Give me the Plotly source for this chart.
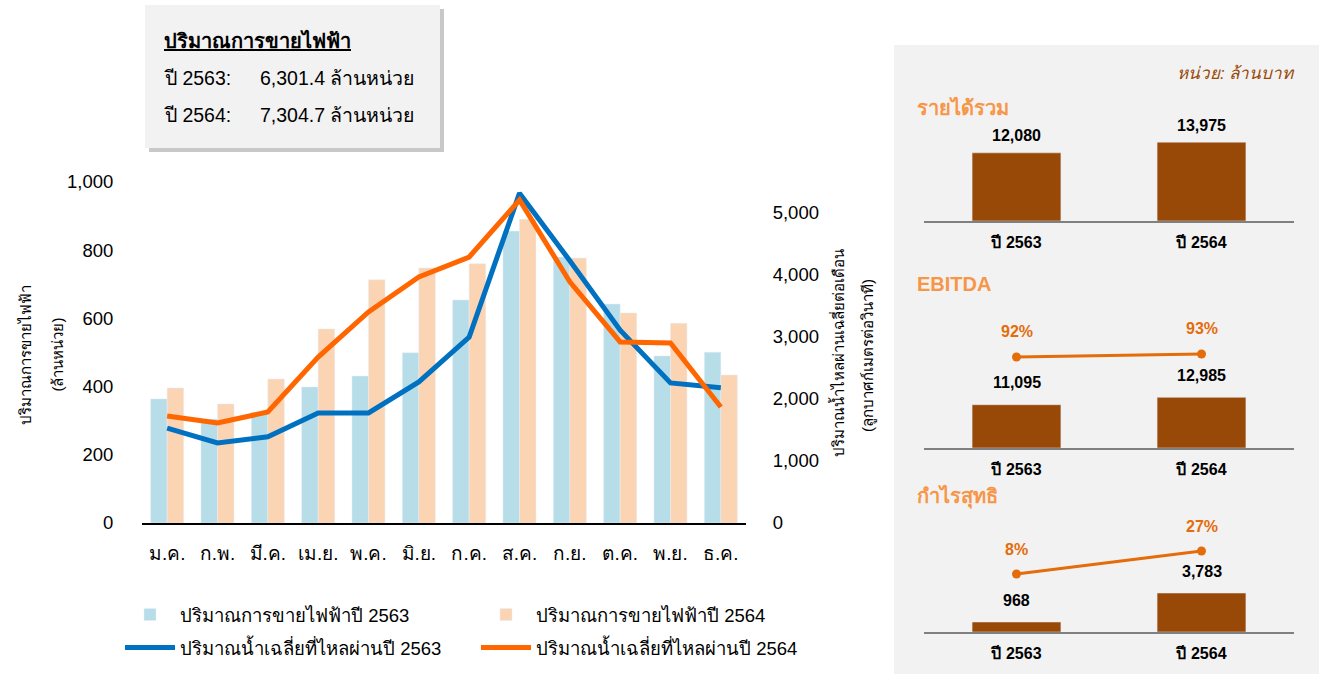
import plotly.graph_objects as go

# ข้อมูลรายเดือน (กราฟซ้าย)
months = ['ม.ค.', 'ก.พ.', 'มี.ค.', 'เม.ย.', 'พ.ค.', 'มิ.ย.', 'ก.ค.', 'ส.ค.', 'ก.ย.', 'ต.ค.', 'พ.ย.', 'ธ.ค.']
sales_2563 = [364, 305, 325, 399, 431, 499, 654, 856, 780, 642, 490, 501]
sales_2564 = [396, 349, 422, 569, 713, 748, 760, 891, 777, 616, 586, 434]
flow_2563 = [1530, 1290, 1390, 1775, 1775, 2275, 3000, 5320, 4230, 3110, 2260, 2180]
flow_2564 = [1725, 1615, 1790, 2675, 3405, 3970, 4290, 5210, 3890, 2920, 2905, 1870]

# สรุปปริมาณการขายไฟฟ้า
summary_years = ['ปี 2563:', 'ปี 2564:']
summary_values = ['6,301.4 ล้านหน่วย', '7,304.7 ล้านหน่วย']

# ข้อมูลการเงิน (กราฟขวา)
years = ['ปี 2563', 'ปี 2564']
revenue = [12080, 13975]
ebitda = [11095, 12985]
ebitda_margin = [92, 93]
net_profit = [968, 3783]
net_margin = [8, 27]

FONT = 'Arial, Liberation Sans, sans-serif'
W, H = 1319, 674


def px(x):
    return x / W


def py(y):
    return 1 - y / H


fig = go.Figure()

# กราฟซ้าย: แท่ง + เส้น
fig.add_trace(go.Bar(x=months, y=sales_2563, name='ปริมาณการขายไฟฟ้าปี 2563',
                     marker=dict(color='#b7dde8'), legend='legend'))
fig.add_trace(go.Bar(x=months, y=sales_2564, name='ปริมาณการขายไฟฟ้าปี 2564',
                     marker=dict(color='#fbd4b4'), legend='legend'))
fig.add_trace(go.Scatter(x=months, y=flow_2563, name='ปริมาณน้ำเฉลี่ยที่ไหลผ่านปี 2563',
                         mode='lines', line=dict(color='#0070c0', width=5), yaxis='y2', legend='legend2'))
fig.add_trace(go.Scatter(x=months, y=flow_2564, name='ปริมาณน้ำเฉลี่ยที่ไหลผ่านปี 2564',
                         mode='lines', line=dict(color='#ff6600', width=5), yaxis='y2', legend='legend2'))

# กราฟขวา
BROWN = '#984807'
ORANGE = '#e46c0a'
panels = [
    ('x3', 'y3', None, revenue, None, 17),
    ('x4', 'y4', 'y7', ebitda, ebitda_margin, 22),
    ('x5', 'y5', 'y8', net_profit, net_margin, 22),
]
annotations = []
for xa, ya, pa, vals, margins, shift in panels:
    fig.add_trace(go.Bar(x=years, y=vals, width=0.48, marker=dict(color=BROWN),
                         xaxis=xa, yaxis=ya, showlegend=False))
    for yr, v in zip(years, vals):
        annotations.append(dict(x=yr, y=v, xref=xa, yref=ya, yshift=shift, showarrow=False,
                                text=f'<b>{v:,}</b>', font=dict(size=16, color='black', family=FONT)))
    if margins is not None:
        fig.add_trace(go.Scatter(x=years, y=margins, mode='lines+markers',
                                 line=dict(color=ORANGE, width=3), marker=dict(size=9, color=ORANGE),
                                 xaxis=xa, yaxis=pa, showlegend=False))
        for yr, m in zip(years, margins):
            annotations.append(dict(x=yr, y=m, xref=xa, yref=pa, yshift=25, showarrow=False,
                                    text=f'<b>{m}%</b>', font=dict(size=16, color=ORANGE, family=FONT)))

# ข้อความ (ตำแหน่งชดเชยความสูงของฟอนต์ไทย)
annotations += [
    dict(x=px(14), y=py(355), text='ปริมาณการขายไฟฟ้า', textangle=-90),
    dict(x=px(46), y=py(355), text='(ล้านหน่วย)', textangle=-90),
    dict(x=px(837), y=py(353), text='ปริมาณน้ำไหลผ่านเฉลี่ยต่อเดือน', textangle=-90),
    dict(x=px(868), y=py(355), text='(ลูกบาศก์เมตรต่อวินาที)', textangle=-90),
]
for a in annotations[-4:]:
    a.update(xref='paper', yref='paper', showarrow=False, font=dict(size=15, color='black', family=FONT))

annotations.append(dict(x=px(162), y=py(27), xref='paper', yref='paper', xanchor='left', showarrow=False,
                        text='<b><u>ปริมาณการขายไฟฟ้า</u></b>', font=dict(size=20, color='black', family=FONT)))
for i, (yl, vl) in enumerate(zip(summary_years, summary_values)):
    yy = py(65 + 37 * i)
    annotations.append(dict(x=px(162), y=yy, xref='paper', yref='paper', xanchor='left', showarrow=False,
                            text=yl, font=dict(size=19.5, color='black', family=FONT)))
    annotations.append(dict(x=px(258), y=yy, xref='paper', yref='paper', xanchor='left', showarrow=False,
                            text=vl, font=dict(size=19.5, color='black', family=FONT)))

annotations.append(dict(x=px(1297), y=py(62), xref='paper', yref='paper', xanchor='right', showarrow=False,
                        text='<i>หน่วย: ล้านบาท</i>', font=dict(size=17, color='#984807', family=FONT)))
for t, yy in [('รายได้รวม', 94), ('EBITDA', 284), ('กำไรสุทธิ', 511)]:
    annotations.append(dict(x=px(915), y=py(yy), xref='paper', yref='paper', xanchor='left', showarrow=False,
                            text=f'<b>{t}</b>', font=dict(size=20, color='#f79646', family=FONT)))

shapes = [
    dict(type='rect', xref='paper', yref='paper', x0=px(894), x1=1, y0=0, y1=py(45),
         fillcolor='#f2f2f2', line=dict(width=0), layer='below'),
    dict(type='rect', xref='paper', yref='paper', x0=px(149), x1=px(444), y0=py(152), y1=py(9),
         fillcolor='#c8c8c8', line=dict(width=0), layer='below'),
    dict(type='rect', xref='paper', yref='paper', x0=px(145), x1=px(440), y0=py(148), y1=py(5),
         fillcolor='#f2f2f2', line=dict(width=0), layer='below'),
]

right_x = dict(domain=[px(924), px(1294)], showline=True, linecolor='#808080', linewidth=2,
               showgrid=False, ticks='outside', ticklen=6, tickcolor='rgba(0,0,0,0)', automargin=False,
               tickfont=dict(size=16, color='black', family=FONT, weight='bold'))
hidden_y = dict(visible=False, showgrid=False, zeroline=False, automargin=False)

fig.update_layout(
    width=W, height=H, autosize=False,
    margin=dict(l=0, r=0, t=0, b=0, pad=0, autoexpand=False),
    paper_bgcolor='white', plot_bgcolor='rgba(0,0,0,0)',
    font=dict(family=FONT, color='black'),
    barmode='group', bargap=0.344, bargroupgap=0,
    xaxis=dict(domain=[px(142), px(746)], anchor='y', showline=True, linecolor='black', linewidth=2,
               showgrid=False, ticks='outside', ticklen=12, tickcolor='rgba(0,0,0,0)', automargin=False,
               tickfont=dict(size=19, family=FONT)),
    yaxis=dict(domain=[py(523), py(182)], range=[0, 1000], dtick=200, tickformat=',', automargin=False,
               showgrid=False, zeroline=False, ticks='outside', ticklen=24, tickcolor='rgba(0,0,0,0)',
               tickfont=dict(size=18.5, family=FONT)),
    yaxis2=dict(overlaying='y', side='right', anchor='x', range=[0, 5500], automargin=False,
                tickvals=[0, 1000, 2000, 3000, 4000, 5000], tickformat=',',
                showgrid=False, zeroline=False, ticks='outside', ticklen=22, tickcolor='rgba(0,0,0,0)',
                tickfont=dict(size=18.5, family=FONT)),
    xaxis3=dict(anchor='y3', **right_x),
    xaxis4=dict(anchor='y4', **right_x),
    xaxis5=dict(anchor='y5', **right_x),
    yaxis3=dict(domain=[py(221), py(121)], range=[0, 17730], anchor='x3', **hidden_y),
    yaxis4=dict(domain=[py(448), py(348)], range=[0, 25640], anchor='x4', **hidden_y),
    yaxis5=dict(domain=[py(632), py(532)], range=[0, 9709], anchor='x5', **hidden_y),
    yaxis7=dict(overlaying='y4', anchor='x4', range=[61.67, 95], **hidden_y),
    yaxis8=dict(overlaying='y5', anchor='x5', range=[-39.91, 42.7], **hidden_y),
    legend=dict(orientation='h', x=px(120), xanchor='left', y=py(615), yanchor='middle',
                entrywidth=291, entrywidthmode='pixels', itemwidth=50, bgcolor='rgba(0,0,0,0)',
                font=dict(size=18.5, family=FONT), traceorder='normal'),
    legend2=dict(orientation='h', x=px(120), xanchor='left', y=py(648), yanchor='middle',
                 entrywidth=291, entrywidthmode='pixels', itemwidth=50, bgcolor='rgba(0,0,0,0)',
                 font=dict(size=18.5, family=FONT), traceorder='normal'),
    annotations=annotations,
    shapes=shapes,
)

fig.write_html('out.html', config={'responsive': False, 'displayModeBar': False},
               post_script="document.body.style.margin='0';document.body.style.overflow='hidden';")
